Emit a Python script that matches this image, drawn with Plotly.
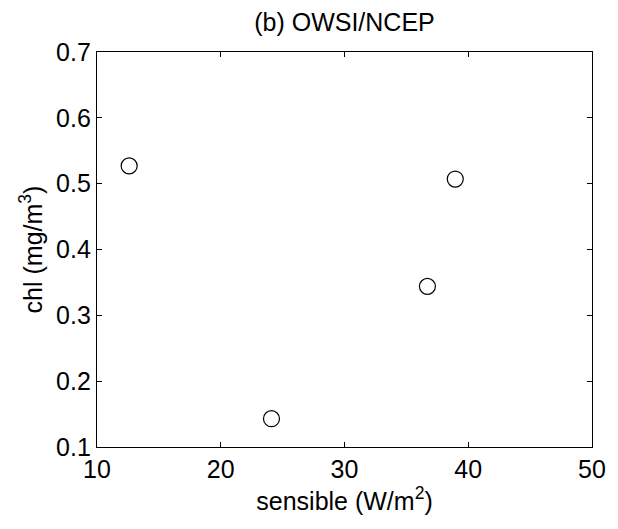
import plotly.graph_objects as go

# Data
sensible = [12.6, 24.1, 36.7, 38.95]
chl = [0.527, 0.143, 0.344, 0.507]

x_ticks = [10, 20, 30, 40, 50]
x_ticktext = ["10", "20", "30", "40", "50"]
y_ticks = [0.1, 0.2, 0.3, 0.4, 0.5, 0.6, 0.7]
y_ticktext = ["0.1", "0.2", "0.3", "0.4", "0.5", "0.6", "0.7"]

FONT = "Liberation Sans, Arial, Helvetica, sans-serif"
FS = 25

fig = go.Figure()
fig.add_trace(go.Scatter(
    x=sensible, y=chl, mode="markers",
    marker=dict(symbol="circle-open", size=16, color="black",
                line=dict(width=1.2, color="black")),
    showlegend=False, hoverinfo="skip",
))

axis_common = dict(
    showgrid=False, zeroline=False, showline=True, linecolor="black",
    linewidth=1.3, mirror="ticks", ticks="inside", ticklen=5,
    tickcolor="black", tickwidth=1,
    tickfont=dict(family=FONT, size=FS, color="black"),
)

fig.update_layout(
    width=618, height=529,
    margin=dict(l=97, r=19, t=52, b=82, pad=0),
    paper_bgcolor="white", plot_bgcolor="white",
    font=dict(family=FONT, size=FS, color="black"),
    title=dict(text="(b) OWSI/NCEP", x=0.5, xanchor="center",
               xref="paper", y=1, yref="paper", yanchor="bottom",
               pad=dict(b=21),
               font=dict(family=FONT, size=FS, color="black")),
    xaxis=dict(range=[10, 50], tickvals=x_ticks, ticktext=x_ticktext,
               title=dict(text="sensible (W/m<sup>2</sup>)", standoff=5,
                          font=dict(family=FONT, size=FS, color="black")),
               **axis_common),
    yaxis=dict(range=[0.1, 0.7], tickvals=y_ticks, ticktext=y_ticktext,
               title=dict(text="chl (mg/m<sup>3</sup>)", standoff=6,
                          font=dict(family=FONT, size=FS, color="black")),
               **axis_common),
)

fig.write_html("out.html")
